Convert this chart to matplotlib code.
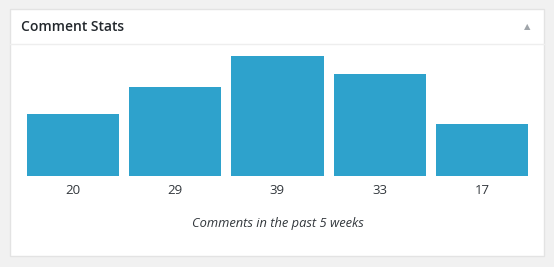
import matplotlib
matplotlib.use("Agg")
import matplotlib.pyplot as plt
from matplotlib.patches import Rectangle
from matplotlib.lines import Line2D

values = [20, 29, 39, 33, 17]
labels = [str(v) for v in values]
title = "Comment Stats"
caption = "Comments in the past 5 weeks"

W, H = 554, 267
fig = plt.figure(figsize=(W / 100, H / 100), dpi=100)
fig.patch.set_facecolor("#f1f1f1")

def fx(x):
    return x / W

def fy(y):
    return 1 - y / H

# panel
fig.patches.append(Rectangle((fx(9.5), fy(256)), fx(544) - fx(9.5), fy(9) - fy(256),
                             transform=fig.transFigure, facecolor="white",
                             edgecolor="#e3e3e3", linewidth=1, zorder=-1))
fig.lines.append(Line2D([fx(10), fx(543.5)], [fy(44), fy(44)], transform=fig.transFigure,
                        color="#eeeeee", linewidth=1))
fig.text(fx(21), fy(27), title, fontsize=10, fontweight="semibold", family="Open Sans",
         color="#23282d", va="center", ha="left")
fig.text(fx(527), fy(27), "\u25B2", fontsize=6, color="#a0a5aa", va="center", ha="center",
         family="DejaVu Sans")

ax = fig.add_axes([fx(27), fy(176), fx(528) - fx(27), (176 - 56) / H])
ax.set_zorder(2)
x = list(range(len(values)))
ax.bar(x, values, width=0.9, color="#2ea2cc")
ax.set_xlim(-0.45, len(values) - 0.55)
ax.set_ylim(0, max(values))
ax.set_xticks(x)
ax.set_xticklabels(labels, fontsize=9.5, family="Open Sans", color="#32373c")
ax.tick_params(axis="x", length=0, pad=6)
ax.set_yticks([])
for s in ax.spines.values():
    s.set_visible(False)
ax.patch.set_alpha(0)

fig.text(fx(277.5), fy(224), caption, fontsize=9.3, style="italic", family="Open Sans",
         color="#32373c", ha="center", va="center")

fig.savefig("out.png", dpi=100, facecolor=fig.get_facecolor())
